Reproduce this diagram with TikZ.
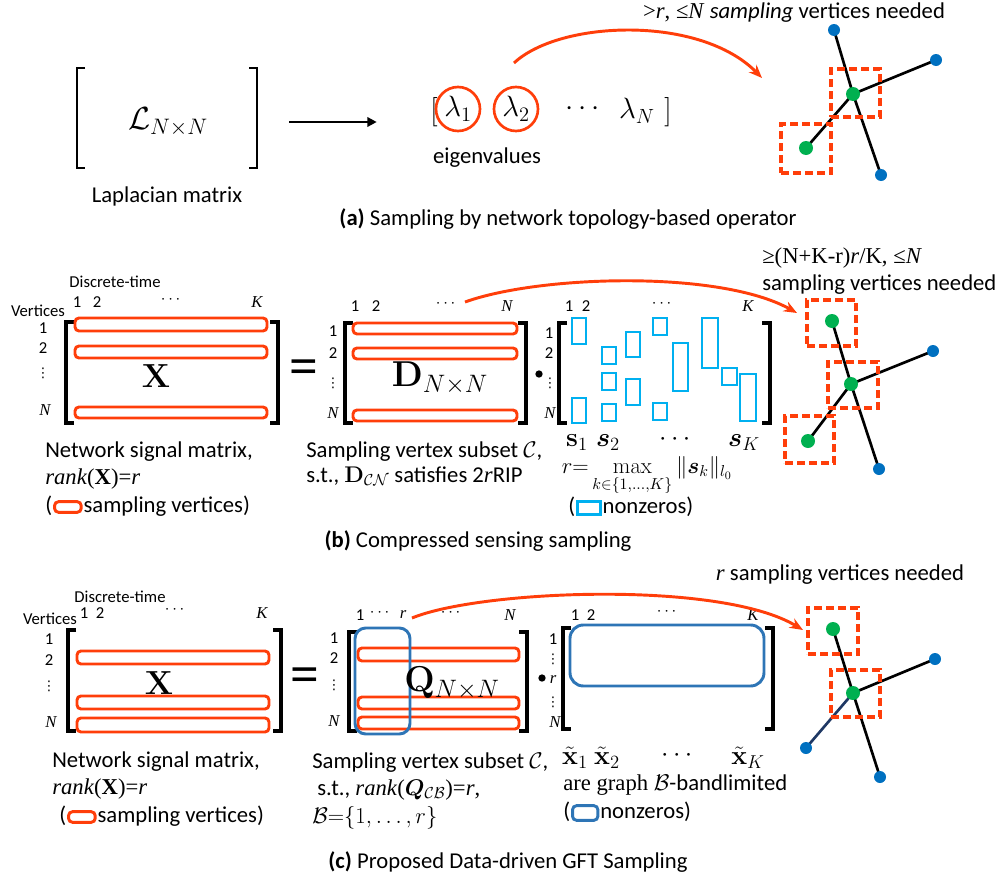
\RequirePackage{fix-cm}
\documentclass[tikz,border=0pt]{standalone}
\usepackage{amsmath,bm}
\usepackage[no-math]{fontspec}
\setmainfont{Carlito}
\newfontfamily\tms{Liberation Serif}
\newfontfamily\djv{DejaVu Sans}
\usetikzlibrary{arrows.meta,fit,positioning,backgrounds}
\definecolor{myred}{RGB}{255,62,10}
\definecolor{mycyan}{RGB}{0,176,240}
\definecolor{myblue}{RGB}{0,112,192}
\definecolor{mygreen}{RGB}{0,176,80}
\definecolor{colblue}{RGB}{46,117,182}
\definecolor{navy}{RGB}{31,56,100}
\newcommand{\vdt}{{\djv\fontsize{10}{10}\selectfont ⋮}}
\tikzset{
 txt/.style={font=\fontsize{17}{20}\selectfont, inner sep=0pt, text height=11.5pt, text depth=3.5pt},
 sm/.style={font=\fontsize{12.5}{14}\selectfont, inner sep=0pt},
 big/.style={inner sep=0pt},
 redrow/.style={draw=myred, line width=2.2pt, rounded corners=3pt, inner sep=0pt},
 cyanbox/.style={draw=mycyan, line width=2.2pt, inner sep=0pt},
 colbox/.style={draw=colblue, line width=2.2pt, inner sep=0pt},
 dsq/.style={draw=myred, line width=2.5pt, dash pattern=on 6pt off 3pt, inner sep=0pt},
 bdot/.style={circle, fill=myblue, inner sep=0pt, minimum size=9pt},
 gdot/.style={circle, fill=mygreen, inner sep=0pt, minimum size=10.5pt},
 mdot/.style={circle, fill=black, inner sep=0pt, minimum size=5.5pt},
 gedge/.style={line width=2pt, black},
 brk/.style={line width=2.4pt},
 eqs/.style={inner sep=0pt, font=\fontsize{38}{38}\selectfont\tms\bfseries},
 redarc/.style={draw=myred, line width=2.2pt, -{Stealth[length=10pt,width=8pt]}},
}
\newcommand{\mbrk}[5]{%
 \draw[brk] (#1+#5,#3) -- (#1,#3) -- (#1,#4) -- (#1+#5,#4);
 \draw[brk] (#2-#5,#3) -- (#2,#3) -- (#2,#4) -- (#2-#5,#4);}
\begin{document}
\begin{tikzpicture}[x=0.75pt,y=-0.75pt]
\useasboundingbox (0,0) rectangle (1008,882);

%%%%%%%%%%%%%%%% (a)
\draw[brk, line width=1.8pt] (85,68) -- (77,68) -- (77,168) -- (85,168);
\draw[brk, line width=1.8pt] (249,68) -- (257,68) -- (257,168) -- (249,168);
\node[fit={(77,68)(257,168)}, inner sep=0pt] (Lmat) {};
\node[big, font=\fontsize{24}{24}\selectfont] (lap) at (168,122) {$\mathcal{L}_{N\times N}$};
\node[big, font=\fontsize{22}{22}\selectfont] (lbr) at (434,112) {$[$};
\node[circle, draw=myred, line width=2pt, minimum size=33pt, inner sep=0pt, font=\fontsize{22}{22}\selectfont] (l1) at (458,109) {$\lambda_1$};
\node[circle, draw=myred, line width=2pt, minimum size=33pt, inner sep=0pt, font=\fontsize{22}{22}\selectfont] (l2) at (516,109) {$\lambda_2$};
\node[big, font=\fontsize{22}{22}\selectfont] (ldots) at (585,109) {$\cdots$};
\node[big, font=\fontsize{22}{22}\selectfont] (lN) at (637,111) {$\lambda_N$};
\node[big, font=\fontsize{22}{22}\selectfont] (rbr) at (668,112) {$]$};
\draw[line width=2.2pt, -{Triangle[length=7pt,width=7pt]}] ([xshift=24pt]Lmat.east |- lap) -- ([xshift=-40pt]lbr.west |- lap);
\node[txt] (eig) at (487,158) {eigenvalues};
\node[txt] (lapm) at (167,197) {Laplacian matrix};
\node[txt] (capa) at (568,220) {\textbf{(a)} Sampling by network topology-based operator};
\node[txt] (tita) at (794,13) {{\tms >\textit{r}, ≤\textit{N}} \textit{sampling} vertices needed};
% graph a
\node[bdot] (a1) at (834,30) {};
\node[bdot] (a2) at (936,60) {};
\node[gdot] (a3) at (853,94) {};
\node[gdot] (a4) at (806,148) {};
\node[bdot] (a5) at (881,175) {};
\begin{scope}[on background layer]
\draw[gedge] (a1.center) -- (a3.center) -- (a5.center);
\draw[gedge] (a4.center) -- (a3.center) -- (a2.center);
\end{scope}
\node[dsq, fit={(831,69)(880,117)}] (asq1) {};
\node[dsq, fit={(781,124)(831,173)}] (asq2) {};
\coordinate (arcaS) at (514,63);
\coordinate (arcaE) at (762,78);
\draw[redarc] (arcaS) .. controls (560,20) and (700,15) .. (arcaE);

%%%%%%%%%%%%%%%% (b)
\node[sm] (dtb) at (115,282) {Discrete-time};
\node[sm] (vtb) at (38,311) {Vertices};
\node[sm] (bxc1) at (77,302) {1};
\node[sm] (bxc2) at (97,302) {2};
\node[sm] (bxc3) at (172,300) {$\cdots$};
\node[sm] (bxc4) at (257,302) {\tms\itshape K};
\node[sm] (bxr1) at (43,328) {1};
\node[sm] (bxr2) at (43,348) {2};
\node[sm] (bxr3) at (43,373) {\vdt};
\node[sm] (bxr4) at (45,410) {\tms\itshape N};
\mbrk{66}{278}{322}{423}{8}
\node[redrow, fit={(75,318)(267,331)}] (bxa) {};
\node[redrow, fit={(75,346)(267,358)}] (bxb) {};
\node[redrow, fit={(75,407)(267,418)}] (bxc) {};
\node[big, font=\fontsize{25}{25}\selectfont] (bX) at (156,376) {$\mathbf{X}$};
\node[eqs] (beq) at (304,372) {=};
% D
\node[sm] (bdc1) at (355,306) {1};
\node[sm] (bdc2) at (376,306) {2};
\node[sm] (bdc3) at (447,304) {$\cdots$};
\node[sm] (bdc4) at (507,306) {\tms\itshape N};
\node[sm] (bdr1) at (333,331) {1};
\node[sm] (bdr2) at (333,353) {2};
\node[sm] (bdr3) at (333,383) {\vdt};
\node[sm] (bdr4) at (333,413) {\tms\itshape N};
\mbrk{345}{526}{323}{423}{8}
\node[redrow, fit={(353,323)(517,334)}] (bda) {};
\node[redrow, fit={(353,348)(517,359)}] (bdb) {};
\node[redrow, fit={(353,410)(517,421)}] (bdc) {};
\node[big, font=\fontsize{27}{27}\selectfont] (bD) at (440,378) {$\mathbf{D}_{N\times N}$};
\node[mdot] (bdot) at (539,374) {};
% S
\node[sm] (bsr1) at (549,333) {1};
\node[sm] (bsr2) at (549,353) {2};
\node[sm] (bsr3) at (550,383) {\vdt};
\node[sm] (bsr4) at (550,413) {\tms\itshape N};
\node[sm] (bsc1) at (569,306) {1};
\node[sm] (bsc2) at (586,306) {2};
\node[sm] (bsc3) at (663,304) {$\cdots$};
\node[sm] (bsc4) at (748,306) {\tms\itshape K};
\mbrk{559}{770}{323}{423}{8}
\foreach \i/\xa/\ya/\xb/\yb in {1/572/318/586/344, 2/572/398/586/423, 3/602/347/616/364, 4/602/373/616/390, 5/602/404/616/421, 6/626/332/640/357, 7/626/379/640/405, 8/653/318/667/335, 9/653/403/667/420, 10/673/343/688/391, 11/702/318/718/368, 12/722/368/737/385, 13/740/374/756/421}
 \node[cyanbox, fit={(\xa,\ya)(\xb,\yb)}] (cb\i) {};
\node[big, font=\fontsize{20}{20}\selectfont] (bs1) at (577,443) {$\mathbf{s}_1$};
\node[big, font=\fontsize{20}{20}\selectfont] (bs2) at (608,443) {$\boldsymbol{s}_2$};
\node[big, font=\fontsize{20}{20}\selectfont] (bs3) at (677,440) {$\cdots$};
\node[big, font=\fontsize{20}{20}\selectfont] (bs4) at (744,443) {$\boldsymbol{s}_K$};
\node[big, font=\fontsize{17}{20}\selectfont] (brmax) at (647,476) {$r{=}\max\limits_{k\in\{1,\ldots,K\}}\|\boldsymbol{s}_k\|_{l_0}$};
\node[txt, anchor=west] (bnz1) at (568,508) {(};
\node[cyanbox, minimum width=17pt, minimum height=10pt, right=0.5pt of bnz1] (bnz2) {};
\node[txt, right=0.5pt of bnz2] (bnz3) {nonzeros)};
% bottom texts b
\node[txt, anchor=west] (bl1) at (45,452) {Network signal matrix,};
\node[txt, anchor=west] (bl2) at (45,479) {\tms\textit{rank}(\textbf{X})=\textit{r}};
\node[txt, anchor=west] (bl3a) at (45,507) {(};
\node[redrow, minimum width=20pt, minimum height=8pt, right=0.5pt of bl3a] (bl3b) {};
\node[txt, right=0.5pt of bl3b] (bl3c) {sampling vertices)};
\node[txt, anchor=west] (bm1) at (306,452) {Sampling vertex subset $\mathcal{C}$,};
\node[txt, anchor=west] (bm2) at (306,477) {s.t., $\mathbf{D}_{\mathcal{C}\mathcal{N}}$ satisfies 2{\tms\textit{r}}RIP};
\node[txt] (capb) at (478,542) {\textbf{(b)} Compressed sensing sampling};
\node[txt, anchor=west] (titb1) at (762,258) {\tms ≥(N+K-r)\textit{r}/K, ≤\textit{N}};
\node[txt, anchor=west] (titb2) at (762,285) {sampling vertices needed};
% graph b
\node[gdot] (b1) at (832,321) {};
\node[gdot] (b2) at (851,384) {};
\node[gdot] (b3) at (808,441) {};
\node[bdot] (b4) at (933,351) {};
\node[bdot] (b5) at (879,469) {};
\begin{scope}[on background layer]
\draw[gedge] (b1.center) -- (b2.center) -- (b5.center);
\draw[gedge] (b3.center) -- (b2.center) -- (b4.center);
\end{scope}
\node[dsq, fit={(807,300)(856,346)}] (bsq1) {};
\node[dsq, fit={(828,362)(878,408)}] (bsq2) {};
\node[dsq, fit={(785,416)(834,463)}] (bsq3) {};
\coordinate (arcbS) at (465,302);
\coordinate (arcbE) at (797,313);
\draw[redarc] (arcbS) .. controls (540,275) and (720,270) .. (arcbE);

%%%%%%%%%%%%%%%% (c)
\node[sm] (dtc) at (120,597) {Discrete-time};
\node[sm] (vtc) at (50,619) {Vertices};
\node[sm] (cxc1) at (84,613) {1};
\node[sm] (cxc2) at (100,613) {2};
\node[sm] (cxc3) at (176,610) {$\cdots$};
\node[sm] (cxc4) at (262,613) {\tms\itshape K};
\node[sm] (cxr1) at (49,639) {1};
\node[sm] (cxr2) at (49,660) {2};
\node[sm] (cxr3) at (49,686) {\vdt};
\node[sm] (cxr4) at (51,722) {\tms\itshape N};
\mbrk{68}{281}{630}{731}{8}
\node[redrow, fit={(77,651)(269,664)}] (cxa) {};
\node[redrow, fit={(77,696)(269,709)}] (cxb) {};
\node[redrow, fit={(77,718)(269,732)}] (cxc) {};
\node[big, font=\fontsize{25}{25}\selectfont] (cX) at (159,683) {$\mathbf{X}$};
\node[eqs] (ceq) at (305,680) {=};
% Q
\node[sm] (cqc1) at (360,615) {1};
\node[sm] (cqc2) at (381,613) {$\cdots$};
\node[sm] (cqc3) at (403,615) {\tms\itshape r};
\node[sm] (cqc4) at (452,613) {$\cdots$};
\node[sm] (cqc5) at (510,615) {\tms\itshape N};
\node[sm] (cqr1) at (334,638) {1};
\node[sm] (cqr2) at (334,658) {2};
\node[sm] (cqr3) at (334,685) {\vdt};
\node[sm] (cqr4) at (334,721) {\tms\itshape N};
\mbrk{349}{527}{632}{731}{8}
\node[redrow, fit={(358,648)(519,661)}] (cqa) {};
\node[redrow, fit={(358,697)(519,709)}] (cqb) {};
\node[redrow, fit={(358,717)(519,729)}] (cqc) {};
\node[colbox, rounded corners=8pt, fit={(355,628)(410,734)}] (cqcol) {};
\node[big, font=\fontsize{27}{27}\selectfont] (cQ) at (452,683) {$\mathbf{Q}_{N\times N}$};
\node[mdot] (cdot) at (542,678) {};
% Xtilde
\node[sm] (ctr1) at (553,639) {1};
\node[sm] (ctr2) at (553,659) {\vdt};
\node[sm] (ctr3) at (553,680) {\tms\itshape r};
\node[sm] (ctr4) at (553,702) {\vdt};
\node[sm] (ctr5) at (555,722) {\tms\itshape N};
\node[sm] (ctc1) at (575,615) {1};
\node[sm] (ctc2) at (591,615) {2};
\node[sm] (ctc3) at (668,612) {$\cdots$};
\node[sm] (ctc4) at (753,615) {\tms\itshape K};
\mbrk{563}{773}{628}{729}{8}
\node[colbox, rounded corners=10pt, fit={(570,625)(764,686)}] (ctbox) {};
\node[big, font=\fontsize{20}{20}\selectfont] (cx1) at (575,758) {$\tilde{\mathbf{x}}_1$};
\node[big, font=\fontsize{20}{20}\selectfont] (cx2) at (607,758) {$\tilde{\mathbf{x}}_2$};
\node[big, font=\fontsize{20}{20}\selectfont] (cx3) at (679,756) {$\cdots$};
\node[big, font=\fontsize{20}{20}\selectfont] (cx4) at (748,758) {$\tilde{\mathbf{x}}_K$};
\node[txt, anchor=west] (cbl) at (563,785) {{\tms are graph }$\mathcal{B}$-bandlimited};
\node[txt, anchor=west] (cnz1) at (563,813) {(};
\node[colbox, rounded corners=3pt, minimum width=19pt, minimum height=11pt, right=0.5pt of cnz1] (cnz2) {};
\node[txt, right=0.5pt of cnz2] (cnz3) {nonzeros)};
% bottom texts c
\node[txt, anchor=west] (cl1) at (52,762) {Network signal matrix,};
\node[txt, anchor=west] (cl2) at (52,789) {\tms\textit{rank}(\textbf{X})=\textit{r}};
\node[txt, anchor=west] (cl3a) at (59,817) {(};
\node[redrow, minimum width=20pt, minimum height=8pt, right=0.5pt of cl3a] (cl3b) {};
\node[txt, right=0.5pt of cl3b] (cl3c) {sampling vertices)};
\node[txt, anchor=west] (cm1) at (312,763) {Sampling vertex subset $\mathcal{C}$,};
\node[txt, anchor=west] (cm2) at (317,790) {s.t., {\tms\textit{rank}(}$\boldsymbol{Q}_{\mathcal{C}\mathcal{B}}${\tms)=\textit{r},}};
\node[txt, anchor=west] (cm3) at (312,818) {$\mathcal{B}{=}\{1,\ldots,r\}$};
\node[txt] (capc) at (508,863) {\textbf{(c)} Proposed Data-driven GFT Sampling};
\node[txt] (titc) at (840,575) {{\tms\textit{r}} sampling vertices needed};
% graph c
\node[gdot] (c1) at (833,629) {};
\node[gdot] (c2) at (853,693) {};
\node[bdot] (c3) at (935,659) {};
\node[bdot] (c4) at (806,748) {};
\node[bdot] (c5) at (880,777) {};
\begin{scope}[on background layer]
\draw[gedge] (c1.center) -- (c2.center) -- (c5.center);
\draw[gedge] (c2.center) -- (c3.center);
\draw[gedge, navy] (c2.center) -- (c4.center);
\end{scope}
\node[dsq, fit={(808,608)(858,654)}] (csq1) {};
\node[dsq, fit={(831,670)(880,717)}] (csq2) {};
\coordinate (arccS) at (412,618);
\coordinate (arccE) at (803,630);
\draw[redarc] (arccS) .. controls (480,590) and (720,580) .. (arccE);
\end{tikzpicture}
\end{document}
